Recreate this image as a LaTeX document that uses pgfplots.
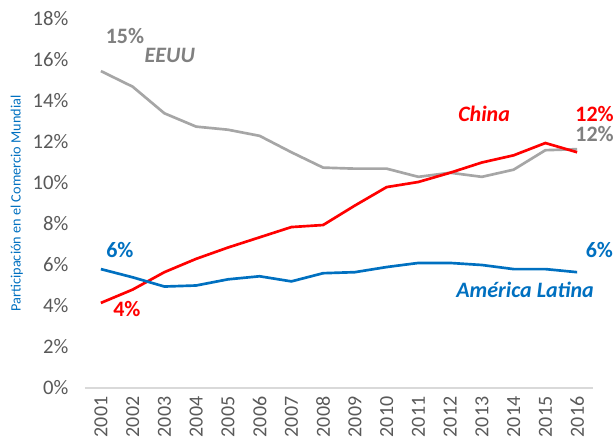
\documentclass[border=0pt]{standalone}
\usepackage{fontspec}
\setmainfont{Carlito}
\usepackage{pgfplots}
\pgfplotsset{compat=1.18}
\definecolor{usgray}{RGB}{166,166,166}
\definecolor{usgraytxt}{RGB}{128,128,128}
\definecolor{cnred}{RGB}{255,0,0}
\definecolor{lablue}{RGB}{0,112,192}
\definecolor{ticktxt}{RGB}{89,89,89}
\definecolor{axisline}{RGB}{217,217,217}
\begin{document}
\begin{tikzpicture}
\begin{axis}[
  name=ax,
  scale only axis,
  width=381pt, height=276.75pt,
  xmin=2000.5, xmax=2016.5,
  ymin=0, ymax=18,
  axis x line*=bottom,
  axis y line*=left,
  x axis line style={axisline, line width=0.8pt, -},
  y axis line style={draw=none},
  xtick={2001,...,2016},
  ytick={0,2,...,18},
  major tick length=0pt,
  xticklabel style={rotate=90, anchor=east, font=\fontsize{15}{16}\selectfont, text=ticktxt, xshift=-3pt},
  yticklabel style={font=\fontsize{15.5}{16}\selectfont, text=ticktxt, xshift=-9pt},
  /pgf/number format/assume math mode=true,
  yticklabel={\pgfmathprintnumber{\tick}\%},
  xticklabel={\pgfmathprintnumber[1000 sep={}]{\tick}},
  ylabel={Participación en el Comercio Mundial},
  ylabel style={at={(axis description cs:-0.134,0.5)}, anchor=center, font=\fontsize{10.7}{11}\selectfont, text=lablue},
  clip=false,
]
\addplot[usgray, line width=2pt] coordinates {
(2001,15.46) (2002,14.7) (2003,13.4) (2004,12.75) (2005,12.6) (2006,12.3) (2007,11.5) (2008,10.75) (2009,10.7) (2010,10.7) (2011,10.3) (2012,10.5) (2013,10.3) (2014,10.65) (2015,11.6) (2016,11.65)};
\addplot[cnred, line width=2pt] coordinates {
(2001,4.15) (2002,4.8) (2003,5.65) (2004,6.3) (2005,6.85) (2006,7.35) (2007,7.85) (2008,7.95) (2009,8.9) (2010,9.8) (2011,10.05) (2012,10.5) (2013,11.0) (2014,11.35) (2015,11.95) (2016,11.5)};
\addplot[lablue, line width=2pt] coordinates {
(2001,5.8) (2002,5.4) (2003,4.95) (2004,5.0) (2005,5.3) (2006,5.45) (2007,5.2) (2008,5.6) (2009,5.65) (2010,5.9) (2011,6.1) (2012,6.1) (2013,6.0) (2014,5.8) (2015,5.8) (2016,5.65)};
\node[text=usgraytxt, font=\fontsize{16.5}{17}\selectfont\bfseries] at (axis cs:2001.76,17.17) {15\%};
\node[text=usgraytxt, font=\fontsize{16.5}{17}\selectfont\bfseries\itshape] at (axis cs:2003.17,16.24) {EEUU};
\node[text=cnred, font=\fontsize{16.5}{17}\selectfont\bfseries\itshape] at (axis cs:2013.07,13.37) {China};
\node[text=cnred, font=\fontsize{16.5}{17}\selectfont\bfseries] at (axis cs:2016.55,13.37) {12\%};
\node[text=usgraytxt, font=\fontsize{16.5}{17}\selectfont\bfseries] at (axis cs:2016.55,12.39) {12\%};
\node[text=lablue, font=\fontsize{16.5}{17}\selectfont\bfseries] at (axis cs:2001.6,6.73) {6\%};
\node[text=lablue, font=\fontsize{16.5}{17}\selectfont\bfseries] at (axis cs:2016.7,6.73) {6\%};
\node[text=cnred, font=\fontsize{16.5}{17}\selectfont\bfseries] at (axis cs:2001.82,3.85) {4\%};
\node[text=lablue, font=\fontsize{16.5}{17}\selectfont\bfseries\itshape] at (axis cs:2014.36,4.78) {América Latina};
\end{axis}
\pgfresetboundingbox
\path[use as bounding box] ([shift={(-63.75pt,-38.25pt)}]ax.south west) rectangle ([shift={(396pt,291pt)}]ax.south west);
\end{tikzpicture}
\end{document}
